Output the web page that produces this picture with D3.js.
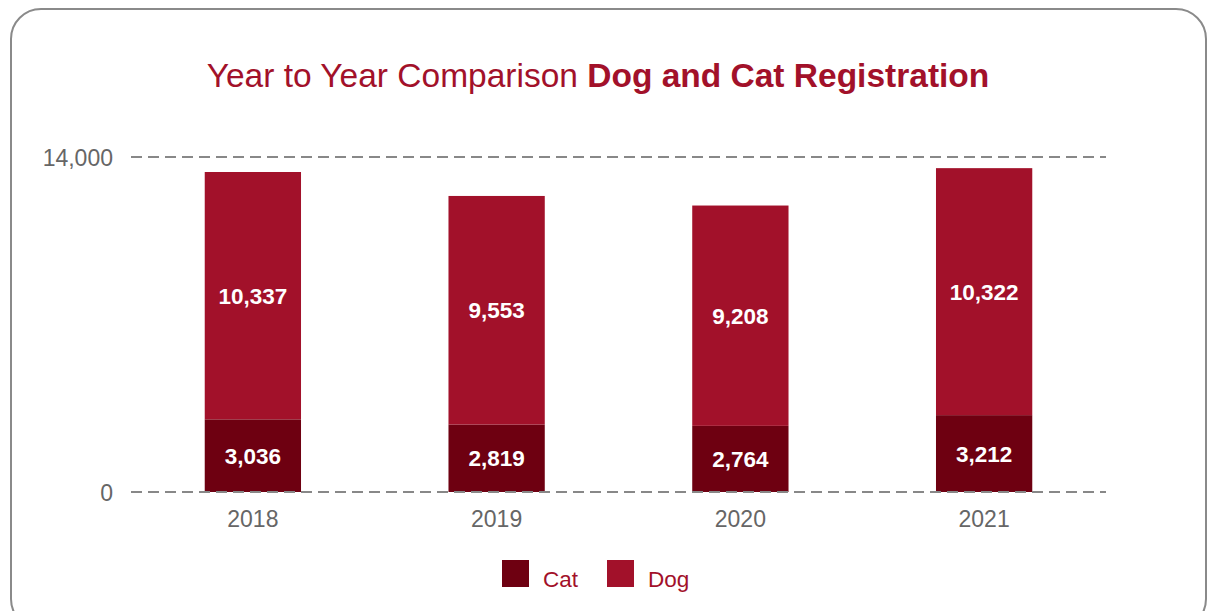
<!DOCTYPE html>
<html><head><meta charset="utf-8">
<script src="https://cdn.jsdelivr.net/npm/d3@7"></script>
<style>body{margin:0;background:#fff;} text{font-family:"Liberation Sans",Arial,sans-serif;}</style>
</head><body><svg id="c" width="1208" height="611"></svg>
<script>
const years = ["2018","2019","2020","2021"];
const cat = [3036, 2819, 2764, 3212];
const dog = [10337, 9553, 9208, 10322];
const yTicks = [0, 14000];
const seriesNames = ["Cat","Dog"];
const colors = {Cat:"#6e0011", Dog:"#a2112a"};

const svg = d3.select("#c");
svg.append("rect").attr("x",11).attr("y",9).attr("width",1195).attr("height",620)
  .attr("rx",30).attr("fill","#fff").attr("stroke","#8a8a8a").attr("stroke-width",2);

const title = svg.append("text").attr("x",598).attr("y",87).attr("text-anchor","middle")
  .attr("fill","#a2112a").attr("font-size",33.5);
title.append("tspan").attr("font-weight",300).text("Year to Year Comparison ");
title.append("tspan").attr("font-weight","bold").text("Dog and Cat Registration");

const x = d3.scaleBand().domain(years).range([131,1106]).paddingInner(0.605).paddingOuter(0.3025);
const y = d3.scaleLinear().domain([0,14000]).range([492,157]);

const data = years.map((yr,i)=>({year:yr, Cat:cat[i], Dog:dog[i]}));
const stack = d3.stack().keys(seriesNames)(data);

const g = svg.append("g");
stack.forEach(s=>{
  g.selectAll(null).data(s).enter().append("rect")
    .attr("x",d=>x(d.data.year)).attr("width",x.bandwidth())
    .attr("y",d=>y(d[1])).attr("height",d=>y(d[0])-y(d[1]))
    .attr("fill",colors[s.key]);
});
const grid = svg.append("g");
yTicks.forEach(t=>{
  grid.append("line").attr("x1",131).attr("x2",1106).attr("y1",y(t)).attr("y2",y(t))
    .attr("stroke","#888").attr("stroke-width",2).attr("stroke-dasharray","11,6");
  grid.append("text").attr("x",113).attr("y",y(t)+9).attr("text-anchor","end")
    .attr("fill","#666").attr("font-size",23).attr("font-weight",300).text(d3.format(",")(t));
});
stack.forEach(s=>{
  g.selectAll(null).data(s).enter().append("text")
    .attr("x",d=>x(d.data.year)+x.bandwidth()/2)
    .attr("y",d=>(y(d[0])+y(d[1]))/2+8)
    .attr("text-anchor","middle").attr("fill","#fff").attr("font-weight","bold").attr("font-size",22.5)
    .text(d=>d3.format(",")(d.data[s.key]));
});
years.forEach(yr=>{
  svg.append("text").attr("x",x(yr)+x.bandwidth()/2).attr("y",527).attr("text-anchor","middle")
    .attr("fill","#666").attr("font-size",23).attr("font-weight",300).text(yr);
});
const leg = [{k:"Cat",x:502},{k:"Dog",x:607}];
leg.forEach(l=>{
  svg.append("rect").attr("x",l.x).attr("y",560).attr("width",27).attr("height",27).attr("fill",colors[l.k]);
  svg.append("text").attr("x",l.x+41).attr("y",587).attr("fill","#a2112a").attr("font-size",22.5)
    .attr("font-weight",300).text(l.k);
});
</script></body></html>
